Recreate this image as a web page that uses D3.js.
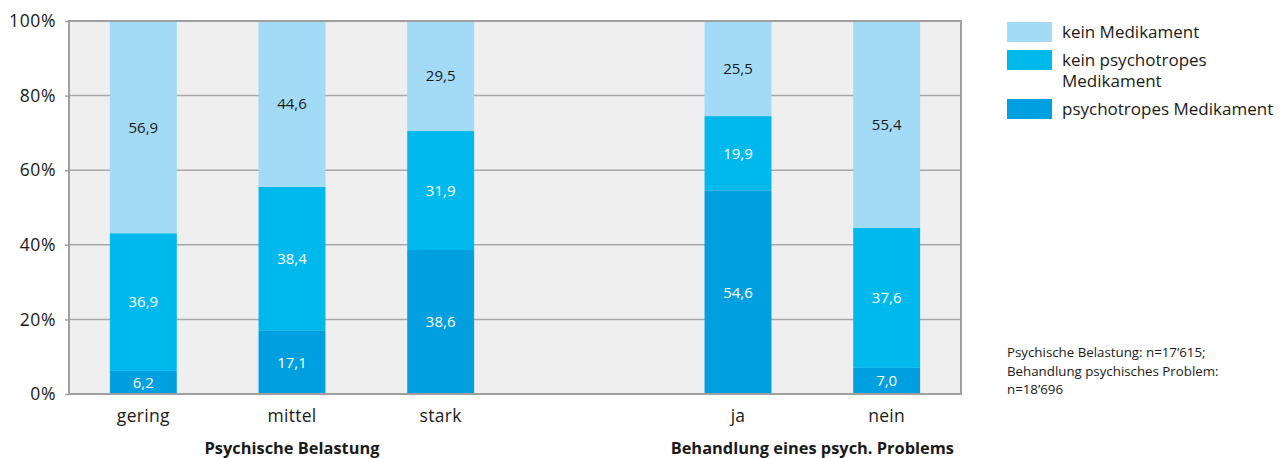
<!DOCTYPE html>
<html>
<head>
<meta charset="utf-8">
<script src="https://cdn.jsdelivr.net/npm/d3@7"></script>
<style>
  html, body { margin: 0; padding: 0; background: #fff; }
  svg { display: block; font-family: "Open Sans", "Noto Sans", sans-serif; }
</style>
</head>
<body>
<svg id="chart" width="1283" height="458"></svg>
<script>
// Categories (an empty slot separates the two groups)
const categories = ["gering", "mittel", "stark", "", "ja", "nein"];
const groupTitles = ["Psychische Belastung", "Behandlung eines psych. Problems"];
const groupMembers = [["gering", "mittel", "stark"], ["ja", "nein"]];

// Series values in percent, per category (bottom to top)
const psychotropes   = [6.2, 17.1, 38.6, null, 54.6, 7.0];
const keinPsychotrop = [36.9, 38.4, 31.9, null, 19.9, 37.6];
const keinMedikament = [56.9, 44.6, 29.5, null, 25.5, 55.4];

const seriesNames = ["psychotropes Medikament", "kein psychotropes Medikament", "kein Medikament"];
const legendLabels = [["kein Medikament"], ["kein psychotropes", "Medikament"], ["psychotropes Medikament"]];
const yTicks = [0, 20, 40, 60, 80, 100];
const noteLines = ["Psychische Belastung: n=17’615;", "Behandlung psychisches Problem:", "n=18’696"];

const colors = {
  "psychotropes Medikament": "#009fe0",
  "kein psychotropes Medikament": "#00b9ec",
  "kein Medikament": "#a3daf6"
};
const labelColors = {
  "psychotropes Medikament": "#ffffff",
  "kein psychotropes Medikament": "#ffffff",
  "kein Medikament": "#1a1a1a"
};

const svg = d3.select("#chart");
const plotLeft = 69, plotRight = 961, plotTop = 21, plotBottom = 394;

const x = d3.scaleBand().domain(categories).range([plotLeft, plotRight]).paddingInner(0.55).paddingOuter(0.275);
const y = d3.scaleLinear().domain([0, 100]).range([plotBottom, plotTop]);

// Plot background
svg.append("rect").attr("x", plotLeft).attr("y", plotTop)
  .attr("width", plotRight - plotLeft).attr("height", plotBottom - plotTop)
  .attr("fill", "#efefef");

// Gridlines
svg.append("g").selectAll("line").data(yTicks.filter(d => d > 0 && d < 100)).join("line")
  .attr("x1", plotLeft).attr("x2", plotRight).attr("y1", d => y(d)).attr("y2", d => y(d))
  .attr("stroke", "#a8a8a8").attr("stroke-width", 1.5);

// Stacked data
const rows = categories.map((c, i) => ({
  cat: c,
  "psychotropes Medikament": psychotropes[i],
  "kein psychotropes Medikament": keinPsychotrop[i],
  "kein Medikament": keinMedikament[i]
})).filter(r => r.cat !== "");

const stack = d3.stack().keys(seriesNames);
const layers = stack(rows);

const gBars = svg.append("g");
layers.forEach(layer => {
  const key = layer.key;
  gBars.append("g").selectAll("rect").data(layer).join("rect")
    .attr("x", d => x(d.data.cat))
    .attr("width", x.bandwidth())
    .attr("y", d => y(Math.min(d[1], 100)))
    .attr("height", d => y(d[0]) - y(Math.min(d[1], 100)))
    .attr("fill", colors[key]);
  gBars.append("g").selectAll("text").data(layer).join("text")
    .attr("x", d => x(d.data.cat) + x.bandwidth() / 2)
    .attr("y", d => (y(d[0]) + y(Math.min(d[1], 100))) / 2)
    .attr("dy", "0.36em")
    .attr("text-anchor", "middle")
    .attr("font-size", 15)
    .attr("fill", labelColors[key])
    .text(d => d3.format(".1f")(d.data[key]).replace(".", ","));
});

// Frame
svg.append("rect").attr("x", plotLeft).attr("y", plotTop)
  .attr("width", plotRight - plotLeft).attr("height", plotBottom - plotTop)
  .attr("fill", "none").attr("stroke", "#a0a0a0").attr("stroke-width", 2);

// Y axis
const yAxis = svg.append("g").attr("transform", `translate(${plotLeft},0)`)
  .call(d3.axisLeft(y).tickValues(yTicks).tickFormat(d => d + "%").tickSize(4).tickPadding(9));
yAxis.select(".domain").remove();
yAxis.selectAll(".tick line").attr("stroke", "#a0a0a0").attr("stroke-width", 1.5);
yAxis.selectAll(".tick text").attr("font-size", 17.5).attr("letter-spacing", 0.6)
  .attr("fill", "#1a1a1a").attr("font-family", "Open Sans, sans-serif");

// X axis labels
const xAxis = svg.append("g").attr("transform", `translate(0,${plotBottom})`)
  .call(d3.axisBottom(x).tickSize(0).tickPadding(16));
xAxis.select(".domain").remove();
xAxis.selectAll(".tick text").attr("font-size", 17.5).attr("letter-spacing", 0.3)
  .attr("fill", "#1a1a1a").attr("font-family", "Open Sans, sans-serif");

// Group titles
groupTitles.forEach((t, i) => {
  const m = groupMembers[i];
  const cx = (x(m[0]) + x(m[m.length - 1]) + x.bandwidth()) / 2;
  svg.append("text").attr("x", cx).attr("y", 454).attr("text-anchor", "middle")
    .attr("font-size", 16.4).attr("font-weight", "bold").attr("fill", "#1a1a1a").text(t);
});

// Legend
const legendSeries = ["kein Medikament", "kein psychotropes Medikament", "psychotropes Medikament"];
const legendY = [22, 50, 99];
legendSeries.forEach((s, i) => {
  svg.append("rect").attr("x", 1007).attr("y", legendY[i]).attr("width", 45).attr("height", 20).attr("fill", colors[s]);
  legendLabels[i].forEach((line, j) => {
    svg.append("text").attr("x", 1062).attr("y", legendY[i] + 16 + j * 21)
      .attr("font-size", 17).attr("fill", "#1a1a1a").text(line);
  });
});

// Sample size note
noteLines.forEach((line, i) => {
  svg.append("text").attr("x", 1007).attr("y", 357 + i * 18.5)
    .attr("font-size", 13.3).attr("fill", "#1a1a1a").text(line);
});
</script>
</body>
</html>
